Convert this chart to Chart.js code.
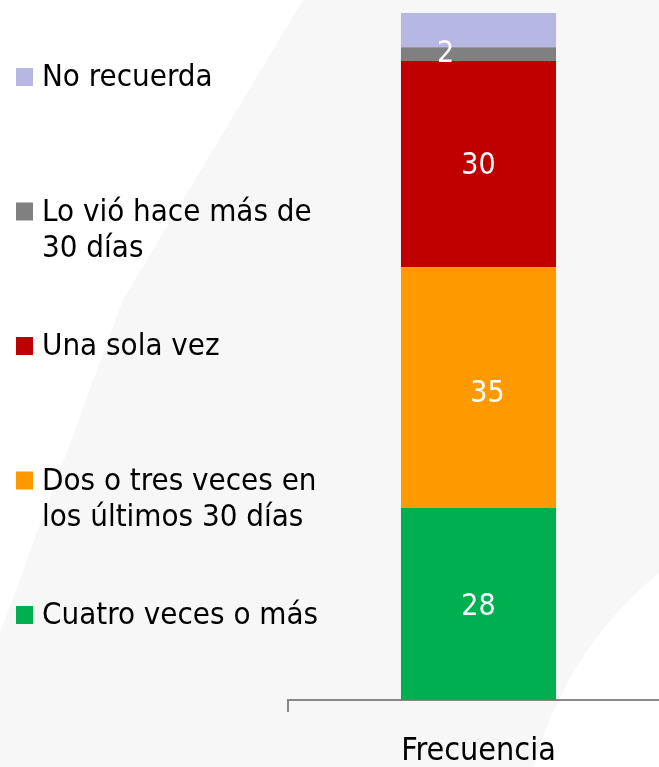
<!DOCTYPE html>
<html>
<head>
<meta charset="utf-8">
<script src="https://cdn.jsdelivr.net/npm/chart.js@4.4.1/dist/chart.umd.min.js"></script>
<style>
  html, body { margin: 0; padding: 0; background: #f7f7f7; overflow: hidden; }
  canvas { display: block; }
</style>
</head>
<body>
<!-- canvas is 10px wider than the window so the axis runs off the right edge like the slide -->
<canvas id="myChart" width="669" height="767"></canvas>
<script>
// one stacked column, bottom segment first
const categories = ["Frecuencia"];
const cuatroVeces = [28];
const dosTresVeces = [35];
const unaSolaVez = [30];
const masDe30Dias = [2];
const noRecuerda = [5];

const seriesNames = [
  ["Cuatro veces o más"],
  ["Dos o tres veces en", "los últimos 30 días"],
  ["Una sola vez"],
  ["Lo vió hace más de", "30 días"],
  ["No recuerda"]
];
const seriesColors = ["#00b050", "#ff9900", "#c00000", "#808080", "#b7b7e3"];
const showValue = [true, true, true, true, false];
// small nudges of the value labels as in the original slide
const labelNudge = [[0, 1], [9, 5], [0, 0], [-33, -2], [0, 0]];

const fontName = "'DejaVu Sans Condensed', 'DejaVu Sans', sans-serif";

const backgroundPlugin = {
  id: "slideBackground",
  beforeDraw(chart) {
    const c = chart.ctx;
    c.save();
    c.fillStyle = "#f7f7f7";
    c.fillRect(0, 0, chart.width, chart.height);
    c.fillStyle = "#ffffff";
    c.beginPath();
    c.moveTo(0, 0);
    c.lineTo(303, 0);
    c.lineTo(123, 300);
    c.lineTo(0, 633);
    c.closePath();
    c.fill();
    c.beginPath();
    c.moveTo(533, 767);
    c.quadraticCurveTo(570, 640, 669, 565);
    c.lineTo(669, 767);
    c.closePath();
    c.fill();
    c.restore();
  }
};

const legendPlugin = {
  id: "sideLegend",
  afterDraw(chart) {
    const c = chart.ctx;
    c.save();
    c.font = "31px " + fontName;
    c.textBaseline = "middle";
    const n = chart.data.datasets.length;
    for (let k = 0; k < n; k++) {
      const i = n - 1 - k; // top legend entry = top segment
      const ds = chart.data.datasets[i];
      const y = 76 + k * 134.5;
      c.fillStyle = ds.backgroundColor;
      c.fillRect(16, y - 8, 17, 18);
      c.fillStyle = "#000000";
      const lines = seriesNames[i];
      for (let j = 0; j < lines.length; j++) {
        c.fillText(lines[j], 42, y + 2 + j * 36.5);
      }
    }
    c.restore();
  }
};

const valuePlugin = {
  id: "segmentValues",
  afterDatasetsDraw(chart) {
    const c = chart.ctx;
    c.save();
    c.font = "30px " + fontName;
    c.fillStyle = "#ffffff";
    c.textAlign = "center";
    c.textBaseline = "middle";
    chart.data.datasets.forEach((ds, i) => {
      if (!showValue[i]) return;
      const meta = chart.getDatasetMeta(i);
      meta.data.forEach((bar, j) => {
        const cy = (bar.y + bar.base) / 2 + 2;
        c.fillText(String(ds.data[j]), bar.x + labelNudge[i][0], cy + labelNudge[i][1]);
      });
    });
    c.restore();
  }
};

const config = {
  type: "bar",
  data: {
    labels: categories,
    datasets: [
      { label: "Cuatro veces o más", data: cuatroVeces, backgroundColor: seriesColors[0] },
      { label: "Dos o tres veces en los últimos 30 días", data: dosTresVeces, backgroundColor: seriesColors[1] },
      { label: "Una sola vez", data: unaSolaVez, backgroundColor: seriesColors[2] },
      { label: "Lo vió hace más de 30 días", data: masDe30Dias, backgroundColor: seriesColors[3] },
      { label: "No recuerda", data: noRecuerda, backgroundColor: seriesColors[4] }
    ]
  },
  options: {
    responsive: false,
    animation: false,
    datasets: {
      bar: { categoryPercentage: 1, barPercentage: 0.407, borderWidth: 0 }
    },
    layout: { padding: { left: 288, top: 13, right: 0, bottom: 0 } },
    plugins: {
      legend: { display: false },
      tooltip: { enabled: false }
    },
    scales: {
      x: {
        stacked: true,
        afterFit(scale) {
          scale.height = 67; // keeps the axis line at the slide's baseline
        },
        grid: {
          display: true,
          drawOnChartArea: false,
          drawTicks: true,
          tickLength: 12,
          color: "#888888",
          lineWidth: 2
        },
        border: { display: true, color: "#888888", width: 2 },
        ticks: {
          color: "#000000",
          padding: 24,
          font: { family: fontName, size: 32, lineHeight: 1 }
        }
      },
      y: {
        stacked: true,
        display: false,
        min: 0,
        max: 100
      }
    }
  },
  plugins: [backgroundPlugin, legendPlugin, valuePlugin]
};

new Chart(document.getElementById("myChart"), config);
</script>
</body>
</html>
